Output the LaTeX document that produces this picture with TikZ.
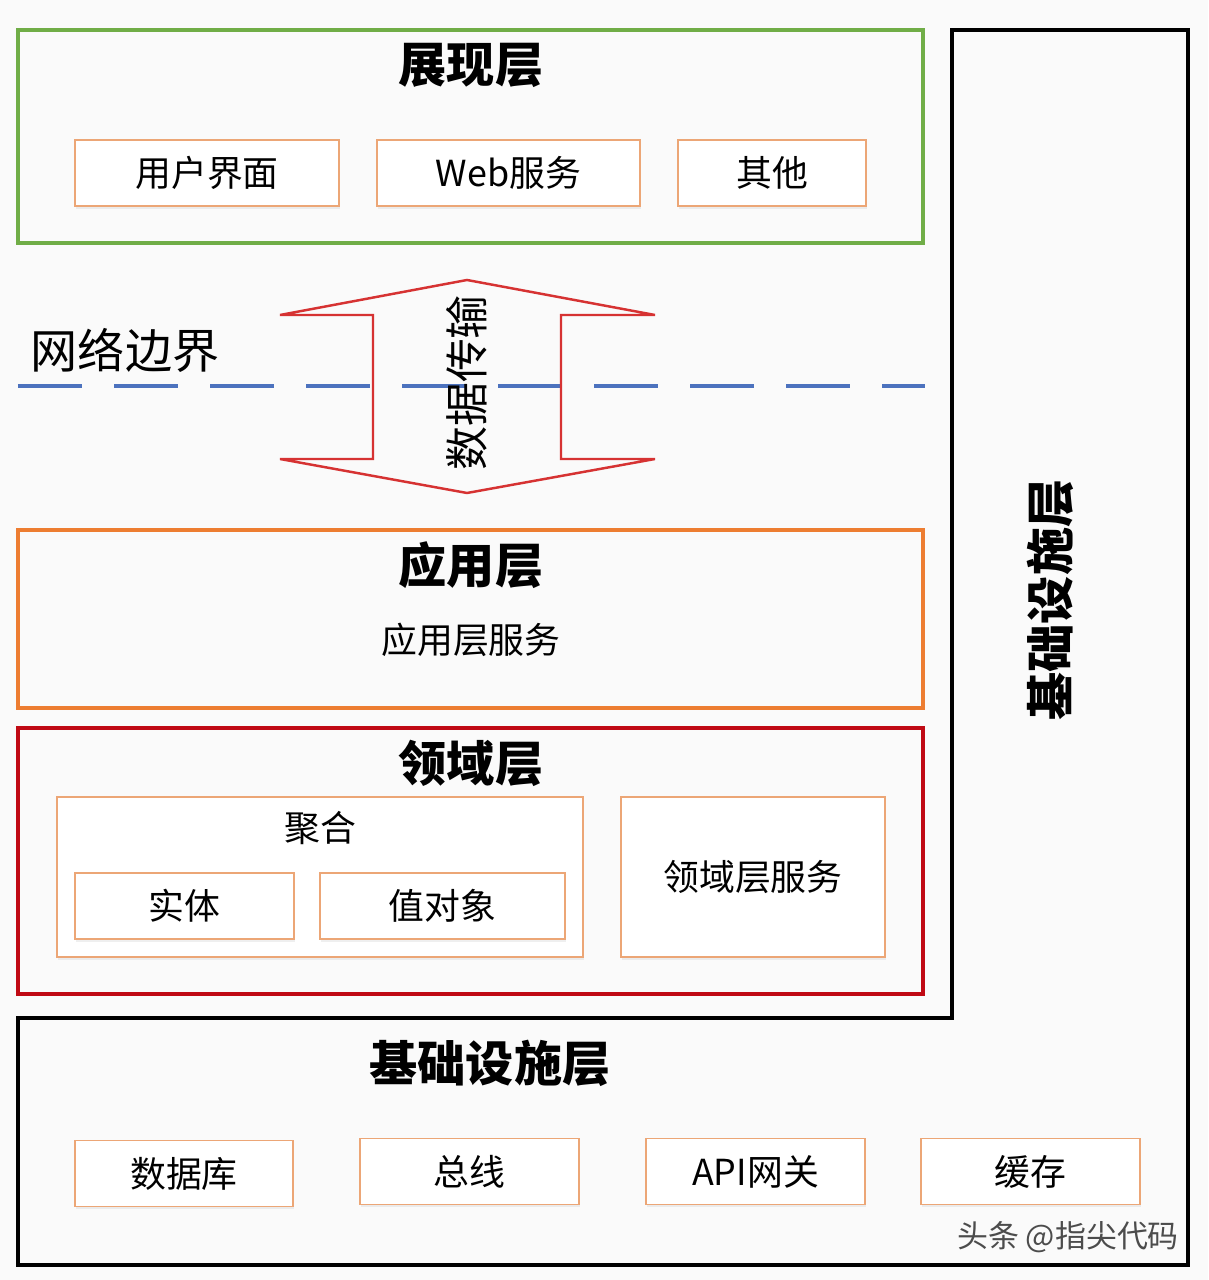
\documentclass[tikz,border=0pt]{standalone}
\usepackage{fontspec}
\setmainfont{Noto Sans CJK SC}
\usetikzlibrary{shadows}

\definecolor{showgreen}{RGB}{112,173,71}
\definecolor{apporange}{RGB}{237,125,49}
\definecolor{domainred}{RGB}{192,10,20}
\definecolor{itemorange}{RGB}{236,166,118}
\definecolor{netblue}{RGB}{76,114,190}
\definecolor{arrowred}{RGB}{214,50,50}

\tikzset{
    layerbox/.style={draw, line width=0.9pt, inner sep=0pt},
    itembox/.style={draw=itemorange, line width=0.5pt, fill=white, inner sep=0pt,
        minimum height=0.66cm, font=\fontsize{10.2}{12}\selectfont,
        drop shadow={opacity=0.12, shadow xshift=0.4pt, shadow yshift=-0.8pt}},
    layertitle/.style={font=\bfseries\fontsize{13.7}{16}\selectfont},
    plaintext/.style={font=\fontsize{10.2}{12}\selectfont}
}

\begin{document}
\begin{tikzpicture}
    % Define the page
    \fill[white!98!black] (0, 0) rectangle (12.08, -12.80);
    \useasboundingbox (0, 0) rectangle (12.08, -12.80);

    % Infrastructure layer (L shape)
    \draw[line width=1.2pt, line join=miter] (0.18, -10.18) -- (9.52, -10.18) -- (9.52, -0.30)
        -- (11.88, -0.30) -- (11.88, -12.65) -- (0.18, -12.65) -- cycle;
    \node[layertitle, rotate=90] (infraside) at (10.50, -6.00) {基础设施层};
    \node[layertitle] (infratitle) at (4.90, -10.63) {基础设施层};
    \node[itembox, minimum width=2.18cm] (db) at (1.84, -11.735) {数据库};
    \node[itembox, minimum width=2.19cm] (bus) at (4.695, -11.715) {总线};
    \node[itembox, minimum width=2.19cm] (gateway) at (7.555, -11.715) {API网关};
    \node[itembox, minimum width=2.19cm] (cache) at (10.305, -11.715) {缓存};

    % Presentation layer
    \node[layerbox, draw=showgreen, minimum width=9.05cm, minimum height=2.13cm] (show) at (4.705, -1.365) {};
    \node[layertitle] (showtitle) at (4.71, -0.65) {展现层};
    \node[itembox, minimum width=2.64cm] (ui) at (2.07, -1.73) {用户界面};
    \node[itembox, minimum width=2.63cm] (web) at (5.085, -1.73) {Web服务};
    \node[itembox, minimum width=1.88cm] (other) at (7.72, -1.73) {其他};

    % Network boundary
    \node[font=\fontsize{13.4}{16}\selectfont] (net) at (1.25, -3.50) {网络边界};
    \coordinate (netl) at (0.18, -3.86);
    \coordinate (netr) at (9.25, -3.86);
    \draw[netblue, line width=1.1pt, dash pattern=on 0.64cm off 0.32cm] (netl) -- (netr);

    % Data transfer arrow
    \draw[arrowred, line width=0.7pt, line join=miter] (4.67, -2.80) -- (6.55, -3.15) -- (5.61, -3.15)
        -- (5.61, -4.59) -- (6.55, -4.59) -- (4.67, -4.93) -- (2.80, -4.59) -- (3.73, -4.59)
        -- (3.73, -3.15) -- (2.80, -3.15) -- cycle;
    \node[rotate=90, font=\fontsize{12.5}{15}\selectfont] (transfer) at (4.67, -3.83) {数据传输};

    % Application layer
    \node[layerbox, draw=apporange, minimum width=9.05cm, minimum height=1.78cm] (app) at (4.705, -6.19) {};
    \node[layertitle] (apptitle) at (4.71, -5.65) {应用层};
    \node[plaintext] (appservice) at (4.71, -6.40) {应用层服务};

    % Domain layer
    \node[layerbox, draw=domainred, minimum width=9.05cm, minimum height=2.66cm] (domain) at (4.705, -8.61) {};
    \node[layertitle] (domaintitle) at (4.71, -7.63) {领域层};
    \node[itembox, minimum width=5.26cm, minimum height=1.60cm] (aggregate) at (3.20, -8.77) {};
    \node[plaintext] (aggtitle) at (3.20, -8.28) {聚合};
    \node[itembox, minimum width=2.19cm] (entity) at (1.845, -9.06) {实体};
    \node[itembox, minimum width=2.45cm] (value) at (4.425, -9.06) {值对象};
    \node[itembox, minimum width=2.64cm, minimum height=1.60cm] (domainservice) at (7.53, -8.77) {领域层服务};

    % Watermark
    \node[gray!60!black, font=\fontsize{8.8}{10}\selectfont] (mark) at (10.68, -12.37) {头条 @指尖代码};
\end{tikzpicture}
\end{document}
